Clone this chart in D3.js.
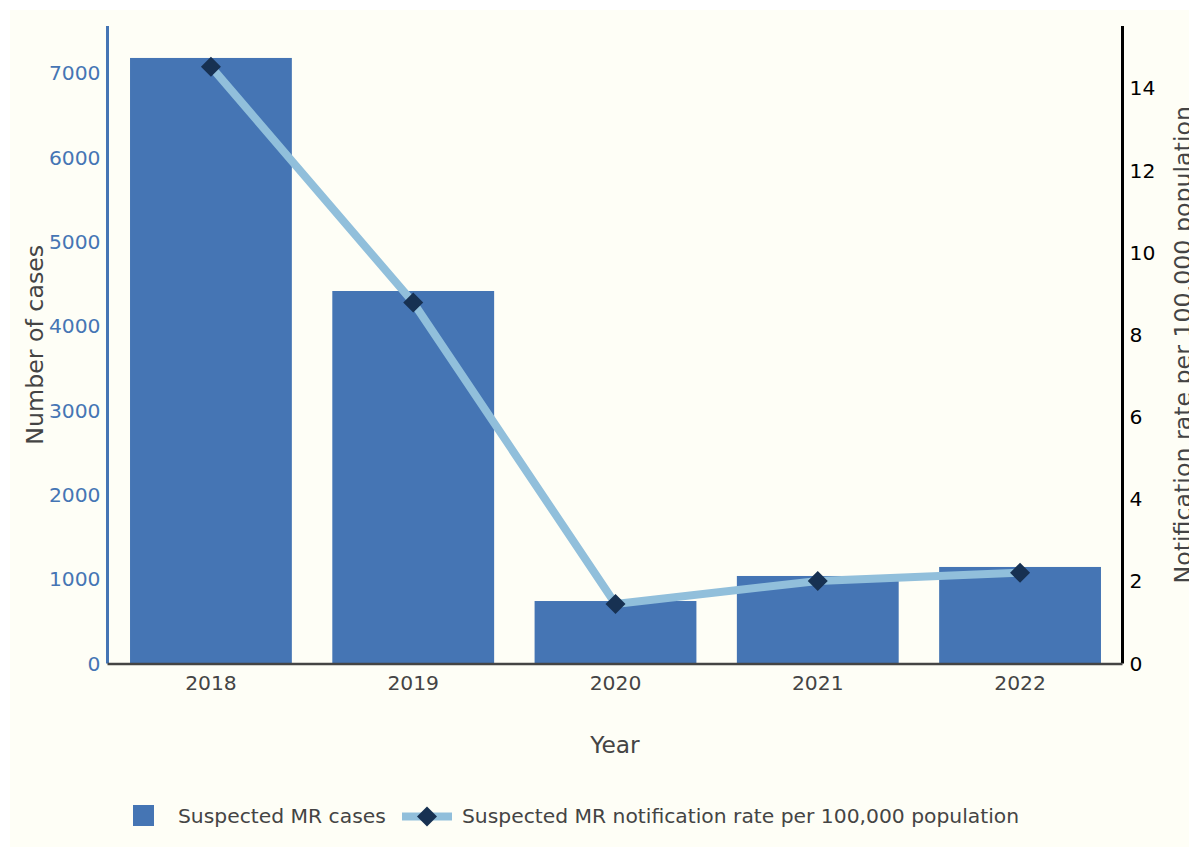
<!DOCTYPE html>
<html><head><meta charset="utf-8">
<script src="https://cdn.jsdelivr.net/npm/d3@7"></script>
<style>html,body{margin:0;padding:0;background:#fff;overflow:hidden}svg{display:block}text{font-family:"DejaVu Sans",Verdana,sans-serif}</style>
</head><body>
<script>
const years = ["2018","2019","2020","2021","2022"];
const cases = [7182, 4418, 741, 1038, 1145];
const rates = [14.53, 8.79, 1.45, 2.01, 2.21];
const leftTicks = [0,1000,2000,3000,4000,5000,6000,7000];
const rightTicks = [0,2,4,6,8,10,12,14];

const W=1189,H=847;
const m={top:26,left:107.5,right:1122.5,bottom:663.5};
const svg=d3.select("body").append("svg").attr("width",W).attr("height",H);
svg.append("rect").attr("x",10).attr("y",10).attr("width",W-10).attr("height",H-10).attr("fill","#fefef6");

const x=d3.scaleBand().domain(years).range([109.8,1121.2]).paddingInner(0.2).paddingOuter(0.1);
const yL=d3.scaleLinear().domain([0,7561]).range([m.bottom,m.top]);
const yR=d3.scaleLinear().domain([0,15.52]).range([m.bottom,m.top]);

// bars
svg.append("g").selectAll("rect").data(years).join("rect")
  .attr("x",d=>x(d)).attr("width",x.bandwidth())
  .attr("y",(d,i)=>yL(cases[i])).attr("height",(d,i)=>yL(0)-yL(cases[i]))
  .attr("fill","#4575b4");

// left axis
const gL=svg.append("g").attr("transform",`translate(${m.left},0)`)
  .call(d3.axisLeft(yL).tickValues(leftTicks).tickSize(0).tickPadding(7).tickFormat(d3.format("d")));
gL.select(".domain").attr("d",`M0,${m.top}V${m.bottom}`).attr("stroke","#4575b4").attr("stroke-width",3);
gL.selectAll("text").attr("fill","#4575b4").style("font-size","20.3px");

// right axis
const gR=svg.append("g").attr("transform",`translate(${m.right},0)`)
  .call(d3.axisRight(yR).tickValues(rightTicks).tickSize(0).tickPadding(7));
gR.select(".domain").attr("d",`M0,${m.top}V${m.bottom}`).attr("stroke","#000").attr("stroke-width",3);
gR.selectAll("text").attr("fill","#000").style("font-size","20.3px");

// x axis
const gX=svg.append("g").attr("transform",`translate(0,${m.bottom+0.5})`)
  .call(d3.axisBottom(x).tickSize(0).tickPadding(12));
gX.select(".domain").attr("d",`M${m.left},0H${m.right}`).attr("stroke","#444").attr("stroke-width",2.5);
gX.selectAll("text").attr("fill","#444").style("font-size","20.3px");

// line
const line=d3.line().x((d,i)=>x(years[i])+x.bandwidth()/2).y(d=>yR(d));
svg.append("path").datum(rates).attr("d",line).attr("fill","none").attr("stroke","#91bfdb").attr("stroke-width",8);
const diamond="M0,-10L10,0L0,10L-10,0Z";
svg.append("g").selectAll("path").data(rates).join("path")
  .attr("transform",(d,i)=>`translate(${x(years[i])+x.bandwidth()/2},${yR(d)})`)
  .attr("d",diamond).attr("fill","#173152");

// titles
svg.append("text").attr("transform",`translate(43,${(m.top+m.bottom)/2}) rotate(-90)`)
  .attr("text-anchor","middle").attr("fill","#444").style("font-size","23.7px").text("Number of cases");
svg.append("text").attr("transform",`translate(1191,${(m.top+m.bottom)/2}) rotate(-90)`)
  .attr("text-anchor","middle").attr("fill","#444").style("font-size","23.7px").text("Notification rate per 100,000 population");
svg.append("text").attr("x",615).attr("y",753)
  .attr("text-anchor","middle").attr("fill","#444").style("font-size","23.3px").text("Year");

// legend
const lg=svg.append("g");
lg.append("rect").attr("x",133).attr("y",805).attr("width",21).attr("height",21).attr("fill","#4575b4");
lg.append("text").attr("x",178).attr("y",822.5).attr("fill","#444").style("font-size","20.3px").text("Suspected MR cases");
lg.append("line").attr("x1",402).attr("x2",452).attr("y1",816.5).attr("y2",816.5).attr("stroke","#91bfdb").attr("stroke-width",8);
lg.append("path").attr("transform","translate(427,816.5)").attr("d",diamond).attr("fill","#173152");
lg.append("text").attr("x",462).attr("y",822.5).attr("fill","#444").style("font-size","20.3px").text("Suspected MR notification rate per 100,000 population");
</script>
</body></html>
